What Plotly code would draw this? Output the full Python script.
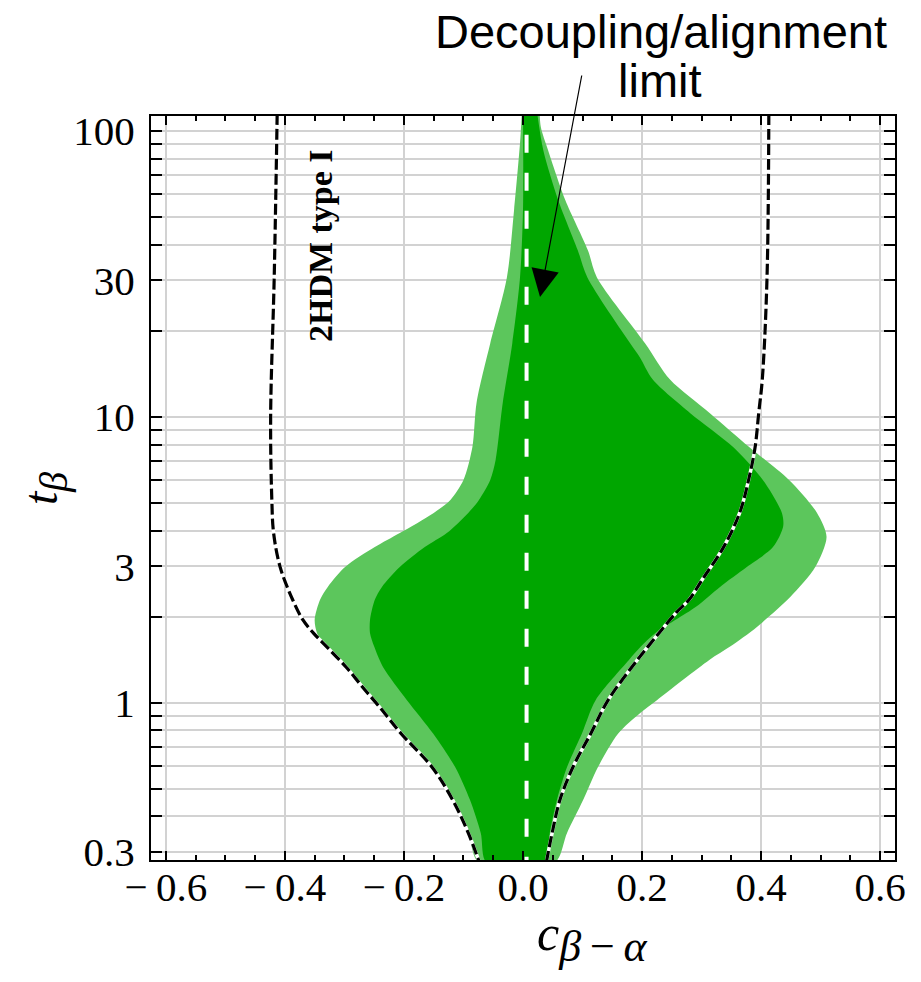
import plotly.graph_objects as go

# ---------------- data ----------------
# light-green (outer) region, right and left edges, listed from top to bottom
TB_OUT_R = [115, 103, 85.8, 57.4, 38.3, 30.8, 18.1, 13.5, 10.3, 7.84, 6.01, 4.61, 3.80, 2.98, 2.34, 1.84, 1.57, 1.41, 1.02, 0.92, 0.78, 0.595, 0.456, 0.35, 0.275]
C_OUT_R = [0.028, 0.030, 0.042, 0.071, 0.109, 0.124, 0.205, 0.247, 0.314, 0.380, 0.447, 0.494, 0.510, 0.491, 0.449, 0.393, 0.348, 0.313, 0.225, 0.197, 0.160, 0.126, 0.101, 0.074, 0.053]
TB_OUT_L = [115, 90.8, 52.9, 30.8, 18.1, 11.2, 7.84, 6.01, 5.12, 4.61, 3.92, 3.50, 2.98, 2.54, 2.29, 1.95, 1.75, 1.57, 1.33, 1.13, 1.02, 0.78, 0.595, 0.456, 0.35, 0.275]
C_OUT_L = [-0.002, -0.005, -0.015, -0.027, -0.055, -0.078, -0.085, -0.100, -0.122, -0.150, -0.207, -0.249, -0.299, -0.328, -0.341, -0.350, -0.346, -0.331, -0.297, -0.269, -0.252, -0.203, -0.152, -0.118, -0.092, -0.074]

# dark-green (inner) region, right and left edges, listed from top to bottom
TB_IN_R = [115, 85.8, 57.4, 38.3, 30.8, 18.1, 16.2, 13.5, 10.3, 7.84, 6.01, 4.61, 4.12, 3.50, 2.98, 2.54, 2.16, 1.75, 1.57, 1.41, 1.02, 0.78, 0.595, 0.456, 0.35, 0.275]
C_IN_R = [0.024, 0.034, 0.059, 0.092, 0.108, 0.180, 0.196, 0.218, 0.281, 0.353, 0.403, 0.435, 0.437, 0.420, 0.376, 0.331, 0.290, 0.222, 0.198, 0.178, 0.122, 0.099, 0.074, 0.057, 0.045, 0.037]
TB_IN_L = [115, 52.9, 30.8, 18.1, 11.2, 7.06, 6.01, 5.12, 4.61, 3.92, 3.50, 2.98, 2.54, 2.29, 1.95, 1.75, 1.57, 1.33, 1.02, 0.78, 0.595, 0.456, 0.35, 0.275]
C_IN_L = [0.000, 0.000, -0.005, -0.018, -0.034, -0.046, -0.055, -0.074, -0.092, -0.128, -0.165, -0.207, -0.237, -0.249, -0.257, -0.257, -0.250, -0.235, -0.195, -0.151, -0.114, -0.089, -0.071, -0.061]

# 2HDM type I boundaries (dashed curves)
TB_T1_L = [115, 30.8, 10.0, 5.12, 3.92, 2.98, 2.29, 1.95, 1.75, 1.57, 1.33, 1.13, 0.965, 0.78, 0.595, 0.456, 0.35, 0.275]
C_T1_L = [-0.413, -0.418, -0.424, -0.422, -0.419, -0.408, -0.387, -0.370, -0.352, -0.330, -0.297, -0.269, -0.241, -0.205, -0.153, -0.118, -0.092, -0.073]
TB_T1_R = [115, 30.8, 13.5, 10.3, 7.84, 6.01, 4.61, 3.50, 2.69, 2.29, 2.06, 1.57, 1.41, 1.02, 0.78, 0.595, 0.456, 0.35, 0.275]
C_T1_R = [0.413, 0.410, 0.402, 0.396, 0.390, 0.379, 0.364, 0.337, 0.301, 0.279, 0.257, 0.210, 0.192, 0.143, 0.114, 0.084, 0.062, 0.049, 0.039]

# decoupling / alignment limit
C_ALIGN = 0.006
TB_ALIGN = [0.25, 120]

X_TICKS = [-0.6, -0.4, -0.2, 0.0, 0.2, 0.4, 0.6]
X_TICK_LABELS = ["\u2212\u20090.6", "\u2212\u20090.4", "\u2212\u20090.2", "0.0", "0.2", "0.4", "0.6"]
Y_TICKS = [0.3, 1, 3, 10, 30, 100]
Y_TICK_LABELS = ["0.3", "1", "3", "10", "30", "100"]
Y_MINOR = [0.4, 0.5, 0.6, 0.7, 0.8, 0.9, 2, 4, 5, 6, 7, 8, 9, 20, 40, 50, 60, 70, 80, 90]

LIGHT = "#5CC65C"
DARK = "#00A600"
SERIF = "Liberation Serif"
GRID = "#d2d2d2"

fig = go.Figure()

fig.add_trace(go.Scatter(
    x=C_OUT_R + C_OUT_L[::-1], y=TB_OUT_R + TB_OUT_L[::-1],
    mode="lines", fill="toself", fillcolor=LIGHT,
    line=dict(width=0, color=LIGHT, shape="spline", smoothing=0.8),
    showlegend=False, hoverinfo="skip"))
fig.add_trace(go.Scatter(
    x=C_IN_R + C_IN_L[::-1], y=TB_IN_R + TB_IN_L[::-1],
    mode="lines", fill="toself", fillcolor=DARK,
    line=dict(width=0, color=DARK, shape="spline", smoothing=0.8),
    showlegend=False, hoverinfo="skip"))

for tb, cc in ((TB_T1_L, C_T1_L), (TB_T1_R, C_T1_R)):
    fig.add_trace(go.Scatter(x=cc, y=tb, mode="lines",
                             line=dict(color="white", width=3.5, shape="spline", smoothing=1.0),
                             showlegend=False, hoverinfo="skip"))
    fig.add_trace(go.Scatter(x=cc, y=tb, mode="lines",
                             line=dict(color="black", width=3.2, dash="11px,4px", shape="spline", smoothing=1.0),
                             showlegend=False, hoverinfo="skip"))

fig.add_trace(go.Scatter(x=[C_ALIGN, C_ALIGN], y=TB_ALIGN, mode="lines",
                         line=dict(color="white", width=4, dash="18px,20px"),
                         showlegend=False, hoverinfo="skip"))

fig.update_layout(
    width=921, height=982,
    margin=dict(l=151, r=26, t=116, b=122),
    paper_bgcolor="white", plot_bgcolor="white",
    font=dict(family=SERIF, color="black"),
)

fig.update_xaxes(
    range=[-0.625, 0.625], tickvals=X_TICKS, ticktext=X_TICK_LABELS,
    ticks="inside", ticklen=9, tickwidth=1.5, tickcolor="black",
    showgrid=True, gridcolor=GRID, gridwidth=2, zeroline=False,
    showline=True, linecolor="black", linewidth=2, mirror="allticks",
    tickfont=dict(family=SERIF, size=41, color="black"), ticklabelstandoff=-10,
    minor=dict(dtick=0.05, tick0=0, ticks="inside", ticklen=5, tickwidth=1.5, tickcolor="black", showgrid=False),
)
fig.update_yaxes(
    type="log", range=[-0.5507, 2.0525],
    tickvals=Y_TICKS, ticktext=Y_TICK_LABELS,
    ticks="inside", ticklen=11, tickwidth=1.5, tickcolor="black",
    showgrid=True, gridcolor=GRID, gridwidth=2, zeroline=False,
    showline=True, linecolor="black", linewidth=2, mirror="allticks",
    tickfont=dict(family=SERIF, size=41, color="black"), ticklabelstandoff=6,
    minor=dict(tickvals=Y_MINOR, ticks="inside", ticklen=11, tickwidth=1.5, tickcolor="black",
               showgrid=True, gridcolor=GRID, gridwidth=2),
)

annotations = [
    dict(text="<i>c</i><sub><span style='font-size:44px'><i>\u03b2</i>\u2009\u2212\u2009<i>\u03b1</i></span></sub>",
         xref="paper", yref="paper", x=(535 - 151) / 744, y=-0.1055, showarrow=False,
         font=dict(family=SERIF, size=50), xanchor="left", yanchor="middle"),
    dict(text="<i>t</i><sub><span style='font-size:40px'><i>\u03b2</i></span></sub>",
         xref="paper", yref="paper", x=-0.1425, y=0.5, showarrow=False, textangle=-90,
         font=dict(family=SERIF, size=48), xanchor="center", yanchor="middle"),
    dict(text="<b>2HDM type I</b>", xref="x", yref="y", x=-0.341, y=1.5976, textangle=-90,
         showarrow=False, font=dict(family=SERIF, size=34), xanchor="center", yanchor="middle"),
    dict(text="Decoupling/alignment", xref="paper", yref="paper", x=(661 - 151) / 744, y=1.1136,
         showarrow=False, font=dict(family="Liberation Sans", size=47), xanchor="center", yanchor="middle"),
    dict(text="limit", xref="paper", yref="paper", x=(660 - 151) / 744, y=1.0477,
         showarrow=False, font=dict(family="Liberation Sans", size=47), xanchor="center", yanchor="middle"),
    # arrow tip at c = 0.0286, t = 26.3 (log10 = 1.4192)
    dict(text="", xref="x", yref="y", x=0.0286, y=1.4192, ax=42, ay=-223, axref="pixel", ayref="pixel",
         showarrow=True, arrowhead=2, arrowsize=4.6, arrowwidth=1.2, arrowcolor="black"),
]
fig.update_layout(annotations=annotations)

fig.write_html("out.html")
